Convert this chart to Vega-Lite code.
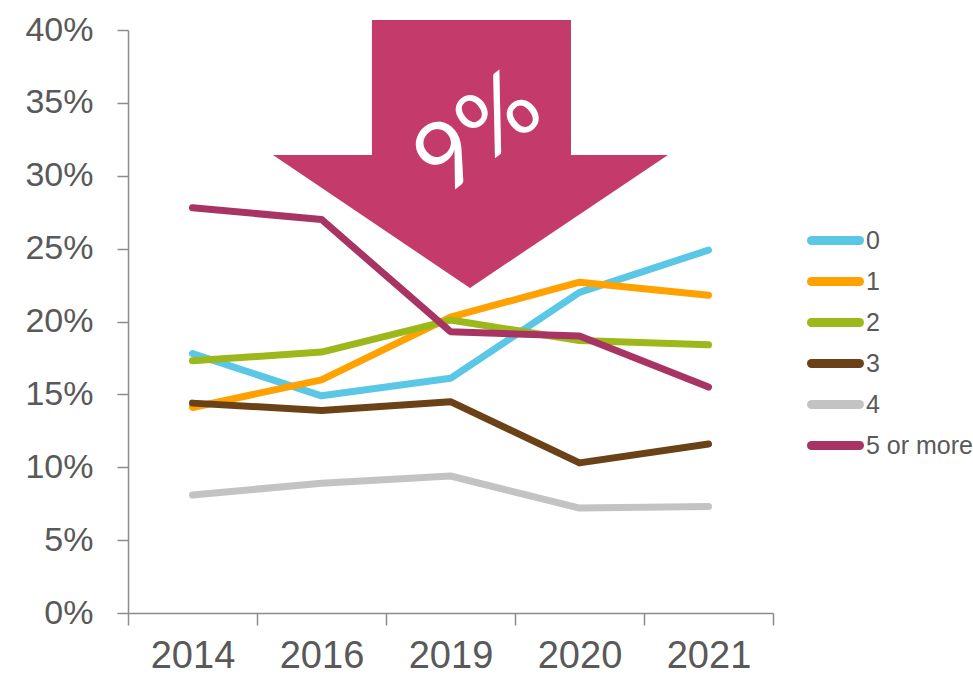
{
  "$schema": "https://vega.github.io/schema/vega-lite/v6.json",
  "width": 645,
  "height": 583,
  "autosize": "none",
  "padding": {"left": 128, "top": 30, "right": 200, "bottom": 63},
  "background": "white",
  "config": {
    "view": {"stroke": null},
    "font": "Liberation Sans"
  },
  "datasets": {
    "series": [
      {"year": "2014", "children": "0", "share": 0.178},
      {"year": "2016", "children": "0", "share": 0.149},
      {"year": "2019", "children": "0", "share": 0.161},
      {"year": "2020", "children": "0", "share": 0.220},
      {"year": "2021", "children": "0", "share": 0.249},
      {"year": "2014", "children": "1", "share": 0.141},
      {"year": "2016", "children": "1", "share": 0.160},
      {"year": "2019", "children": "1", "share": 0.203},
      {"year": "2020", "children": "1", "share": 0.227},
      {"year": "2021", "children": "1", "share": 0.218},
      {"year": "2014", "children": "2", "share": 0.173},
      {"year": "2016", "children": "2", "share": 0.179},
      {"year": "2019", "children": "2", "share": 0.201},
      {"year": "2020", "children": "2", "share": 0.187},
      {"year": "2021", "children": "2", "share": 0.184},
      {"year": "2014", "children": "3", "share": 0.144},
      {"year": "2016", "children": "3", "share": 0.139},
      {"year": "2019", "children": "3", "share": 0.145},
      {"year": "2020", "children": "3", "share": 0.103},
      {"year": "2021", "children": "3", "share": 0.116},
      {"year": "2014", "children": "4", "share": 0.081},
      {"year": "2016", "children": "4", "share": 0.089},
      {"year": "2019", "children": "4", "share": 0.094},
      {"year": "2020", "children": "4", "share": 0.072},
      {"year": "2021", "children": "4", "share": 0.073},
      {"year": "2014", "children": "5 or more", "share": 0.278},
      {"year": "2016", "children": "5 or more", "share": 0.270},
      {"year": "2019", "children": "5 or more", "share": 0.193},
      {"year": "2020", "children": "5 or more", "share": 0.190},
      {"year": "2021", "children": "5 or more", "share": 0.155}
    ],
    "shaft": [{"left": 1.891, "right": 3.434, "top": 0.4069, "bottom": 0.312}],
    "head": [
      {"level": 0.3142, "left": 1.124, "right": 4.186},
      {"level": 0.2230, "left": 2.651, "right": 2.651}
    ],
    "label": [{"pos": 2.722, "level": 0.328, "text": "9%"}]
  },
  "resolve": {"scale": {"x": "independent"}, "axis": {"x": "independent"}},
  "layer": [
    {
      "data": {"name": "shaft"},
      "mark": {"type": "rect", "color": "#C43A6B", "clip": false},
      "encoding": {
        "x": {"field": "left", "type": "quantitative", "scale": {"domain": [0, 5], "nice": false, "zero": false}, "axis": null},
        "x2": {"field": "right"},
        "y": {
          "field": "top", "type": "quantitative", "scale": {"domain": [0, 0.4], "nice": false},
          "axis": {
            "title": null, "format": ".0%", "values": [0, 0.05, 0.1, 0.15, 0.2, 0.25, 0.3, 0.35, 0.4],
            "domainColor": "#8c8c8c", "tickColor": "#8c8c8c", "domainWidth": 1.5, "tickWidth": 1.5,
            "tickSize": 11, "labelFontSize": 34, "labelColor": "#595959", "labelPadding": 24,
            "grid": false
          }
        },
        "y2": {"field": "bottom"}
      }
    },
    {
      "data": {"name": "head"},
      "mark": {"type": "area", "orient": "horizontal", "color": "#C43A6B", "clip": false},
      "encoding": {
        "y": {"field": "level", "type": "quantitative", "scale": {"domain": [0, 0.4], "nice": false}, "title": null},
        "x": {"field": "left", "type": "quantitative", "scale": {"domain": [0, 5], "nice": false, "zero": false}, "axis": null},
        "x2": {"field": "right"}
      }
    },
    {
      "data": {"name": "label"},
      "mark": {"type": "text", "color": "white", "font": "Lato", "fontWeight": 400, "fontSize": 94, "angle": -38, "align": "center", "baseline": "middle"},
      "encoding": {
        "x": {"field": "pos", "type": "quantitative", "scale": {"domain": [0, 5], "nice": false, "zero": false}, "axis": null},
        "y": {"field": "level", "type": "quantitative", "scale": {"domain": [0, 0.4], "nice": false}, "title": null},
        "text": {"field": "text"}
      }
    },
    {
      "data": {"name": "series"},
      "mark": {"type": "line", "strokeWidth": 7, "strokeCap": "round", "strokeJoin": "round"},
      "encoding": {
        "x": {
          "field": "year", "type": "ordinal", "bandPosition": 0.5,
          "scale": {"type": "band", "paddingInner": 0, "paddingOuter": 0},
          "axis": {
            "title": null, "labelAngle": 0, "tickBand": "extent",
            "domainColor": "#8c8c8c", "tickColor": "#8c8c8c", "domainWidth": 1.5, "tickWidth": 1.5,
            "tickSize": 12, "labelFontSize": 38, "labelColor": "#595959", "labelPadding": 12,
            "grid": false
          }
        },
        "y": {
          "field": "share", "type": "quantitative",
          "scale": {"domain": [0, 0.4], "nice": false},
          "title": null
        },
        "color": {
          "field": "children", "type": "nominal",
          "scale": {
            "domain": ["0", "1", "2", "3", "4", "5 or more"],
            "range": ["#5BC7E6", "#FFA200", "#9CB81A", "#6B4217", "#C3C3C3", "#A73462"]
          },
          "legend": {
            "title": null, "orient": "none", "legendX": 679, "legendY": 190,
            "symbolType": "stroke", "symbolSize": 2304, "symbolStrokeWidth": 9,
            "labelFontSize": 25, "labelColor": "#595959", "labelOffset": 2,
            "clipHeight": 41, "rowPadding": 0,
            "encode": {"symbols": {"update": {"strokeCap": {"value": "round"}}}}
          }
        }
      }
    }
  ]
}
